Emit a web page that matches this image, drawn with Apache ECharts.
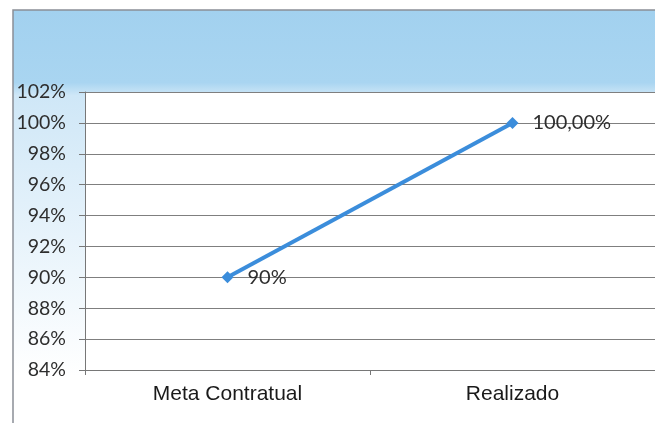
<!DOCTYPE html>
<html><head><meta charset="utf-8">
<script src="https://cdn.jsdelivr.net/npm/echarts@6/dist/echarts.min.js"></script>
<style>html,body{margin:0;padding:0;background:#fff}#c{width:655px;height:423px}</style>
</head><body><div id="c"></div>
<script>
const categories = ['Meta Contratual', 'Realizado'];
const values = [90, 100];
const pointLabels = ['90%', '100,00%'];
const yTicks = { min: 84, max: 102, interval: 2 };

const chart = echarts.init(document.getElementById('c'));
chart.setOption({
  backgroundColor: '#ffffff',
  animation: false,
  graphic: [{
    type: 'rect', z: -10,
    shape: { x: 13, y: 10, width: 660, height: 430 },
    style: {
      fill: { type: 'linear', x: 0, y: 0, x2: 0, y2: 1, colorStops: [
        { offset: 0, color: '#a2d1ef' },
        { offset: 0.17, color: '#a9d5f1' },
        { offset: 0.2, color: '#cfe7f7' },
        { offset: 0.85, color: '#ffffff' },
        { offset: 1, color: '#ffffff' }
      ] },
      stroke: '#8a8f96', lineWidth: 1.5
    }
  }],
  grid: { left: 85, right: 0, top: 92, bottom: 53, backgroundColor: '#ffffff', show: true, borderWidth: 0 },
  xAxis: {
    type: 'category', data: categories, boundaryGap: true,
    axisLine: { lineStyle: { color: '#777', width: 1 } },
    axisTick: { show: true, length: 5, lineStyle: { color: '#777' } },
    axisLabel: { margin: 14, color: '#1a1a1a', fontSize: 21, fontFamily: 'Liberation Sans, Arial, sans-serif' }
  },
  yAxis: {
    type: 'value', min: yTicks.min, max: yTicks.max, interval: yTicks.interval,
    axisLine: { show: true, lineStyle: { color: '#777', width: 1 } },
    axisTick: { show: true, length: 6, lineStyle: { color: '#777' } },
    splitLine: { lineStyle: { color: '#7f7f7f', width: 1 } },
    axisLabel: { formatter: '{value}%', margin: 19, color: '#2e2e2e', fontSize: 19.5, fontFamily: 'Lato, sans-serif' }
  },
  series: [{
    type: 'line', data: values,
    symbol: 'diamond', symbolSize: 12,
    lineStyle: { color: '#3b8ddb', width: 4 },
    itemStyle: { color: '#3b8ddb' },
    label: {
      show: true, position: 'right', distance: 14,
      color: '#2e2e2e', fontSize: 20, fontFamily: 'Lato, sans-serif',
      formatter: p => pointLabels[p.dataIndex]
    }
  }]
});
</script></body></html>
